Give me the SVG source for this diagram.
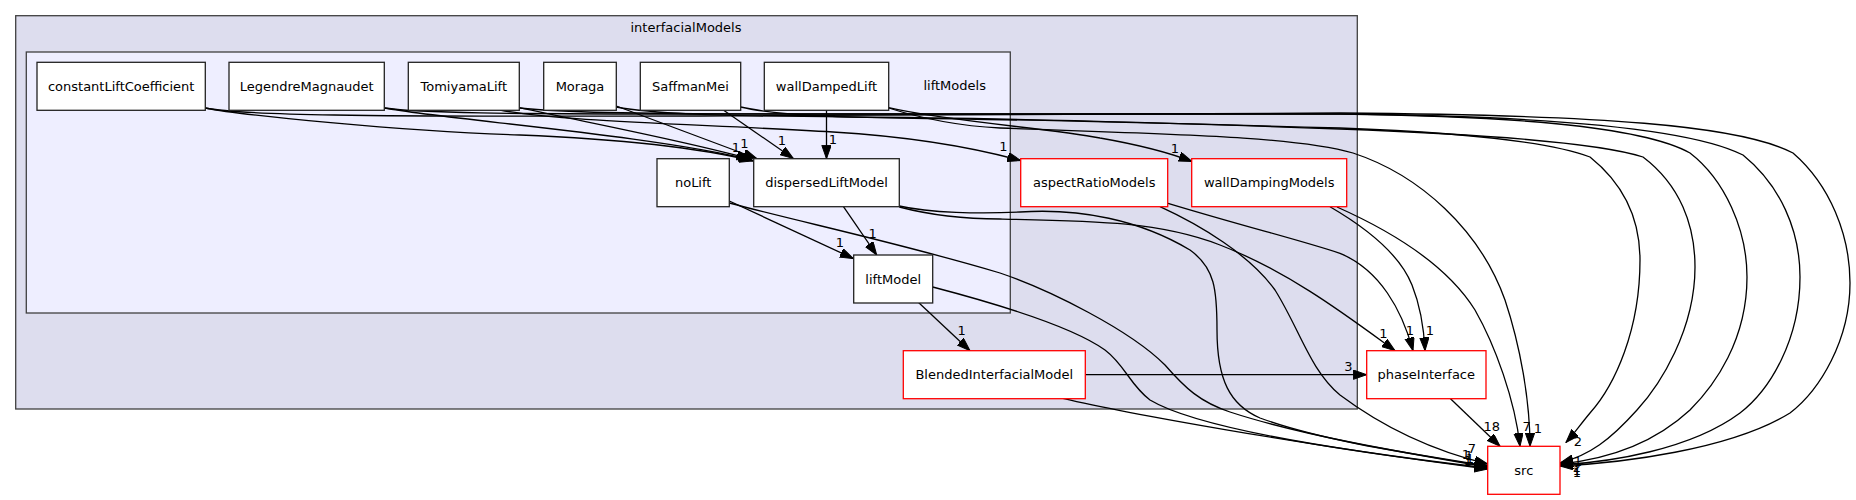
<svg xmlns="http://www.w3.org/2000/svg" width="1856" height="500" viewBox="0 0 1856 500">
<style>
text{font-family:"DejaVu Sans","Liberation Sans",sans-serif;font-size:13px;fill:#000}
.n{text-anchor:middle}
.node rect{fill:#fff;stroke:#222;stroke-width:1.3}
.node.red rect{stroke:#ff0000}
.cl{stroke:#404040;stroke-width:1.3}
.e path{fill:none;stroke:#000;stroke-width:1.3;marker-end:url(#ah)}
.e text{text-anchor:middle}
</style>
<defs>
<marker id="ah" markerWidth="14" markerHeight="10" refX="13.3" refY="4.67" orient="auto" markerUnits="userSpaceOnUse">
<path d="M0,0 L13.3,4.67 L0,9.33 Z" fill="#000" stroke="#000" stroke-width="1"/>
</marker>
</defs>
<rect width="1856" height="500" fill="#fff"/>
<g id="cluster_interfacialModels">
<rect class="cl" x="15.7" y="15.7" width="1341.6" height="393.3" fill="#ddddee"/>
<text class="n" x="686" y="32">interfacialModels</text>
</g>
<g id="cluster_liftModels">
<rect class="cl" x="26.3" y="52" width="984" height="261" fill="#eeeeff"/>
<text class="n" x="954.7" y="90">liftModels</text>
</g>
<g id="edges">
<g class="e"><path d="M826.5,110.3 L826.5,158.7"/><text x="833" y="144">1</text></g>
<g class="e"><path d="M724,110.5 L793.3,158.5"/><text x="782" y="145">1</text></g>
<g class="e"><path d="M616.3,106 L756.7,158.5"/><text x="744.3" y="148">1</text></g>
<g class="e"><path d="M519.3,107.7 C600,125 690,142 750,159"/><text x="736" y="152">1</text></g>
<g class="e"><path d="M384.3,108 C450,120 650,135 752,160"/></g>
<g class="e"><path d="M205.3,108 C240,115 400,131 520,135 C620,139 700,148 753,161"/></g>
<g class="e"><path d="M500,110 C560,122 700,124 833,132 C900,136 960,144 1020.7,160.5"/><text x="1003.3" y="151">1</text></g>
<g class="e"><path d="M888.7,107.7 C950,122 1050,128 1100,138 C1140,145 1170,153 1192,161.5"/><text x="1175" y="153">1</text></g>
<g class="e"><path d="M843.3,206.3 L876.7,255"/><text x="872.7" y="238">1</text></g>
<g class="e"><path d="M729.3,201 L853.3,258.5"/><text x="840" y="247">1</text></g>
<g class="e"><path d="M918.3,302.3 L970,350.7"/><text x="961.7" y="335">1</text></g>
<g class="e"><path d="M1085.3,374.7 L1366.7,374.7"/><text x="1348.3" y="370.5">3</text></g>
<g class="e"><path d="M1450,398.3 L1500,446.3"/><text x="1491.7" y="431">18</text></g>
<g class="e"><path d="M899.3,207 C930,215 960,219 1000,219 C1100,221 1160,222 1220,245 C1290,272 1350,318 1395,350.7"/><text x="1383.3" y="338">1</text></g>
<g class="e"><path d="M1168,203.3 C1250,228 1300,240 1340,253.3 C1380,270 1402,310 1413,350.7"/><text x="1410" y="335">1</text></g>
<g class="e"><path d="M1330,206.7 C1370,230 1400,255 1412,285 C1420,305 1424,330 1425,350.7"/><text x="1430" y="335">1</text></g>
<g class="e"><path d="M899.3,206 C930,213 980,214 1020,212 C1080,208 1140,220 1190,250 C1215,268 1217,290 1217,330 C1217,380 1230,405 1260,418 C1320,440 1400,452 1487.7,466"/><text x="1472" y="453">7</text></g>
<g class="e"><path d="M1160,206.7 C1200,225 1250,255 1275,290 C1300,330 1310,370 1340,395 C1380,425 1430,450 1487.7,464"/><text x="1469" y="460">1</text></g>
<g class="e"><path d="M729.3,203 C800,222 900,243 1000,273 C1050,290 1130,330 1165,365 C1185,388 1200,402 1230,412 C1300,435 1400,452 1487.7,467"/><text x="1466" y="459">1</text></g>
<g class="e"><path d="M932.7,287 C990,302 1070,325 1105,350 C1125,365 1130,385 1150,400 C1200,430 1350,452 1487.7,468"/><text x="1470" y="463">1</text></g>
<g class="e"><path d="M1063,398.3 C1120,412 1300,445 1487.7,469"/><text x="1468" y="465">1</text></g>
<g class="e"><path d="M1337,207 C1400,235 1450,270 1475,310 C1495,345 1515,400 1520,446.3"/><text x="1526.7" y="430.5">7</text></g>
<g class="e"><path d="M888.7,108 C920,118 960,126 1000,128 C1150,134 1290,135 1353,153 C1420,175 1480,230 1505,300 C1520,345 1530,400 1530,446.3"/><text x="1538" y="432.5">1</text></g>
<g class="e"><path d="M740.7,107 C770,114 820,117 900,118 C1050,120 1200,124 1340,128 C1420,131 1540,138 1590,157 C1625,185 1640,220 1640,260 C1640,330 1615,385 1590,413 C1580,425 1573,435 1566,442.5"/><text x="1578" y="446">2</text></g>
<g class="e"><path d="M616.3,107 C650,113 700,116 850,117 C1000,118 1200,124 1340,129 C1450,133 1590,140 1643,157 C1680,185 1695,225 1695,267 C1695,330 1660,385 1637,410 C1610,440 1590,455 1560,463"/><text x="1578" y="465.5">1</text></g>
<g class="e"><path d="M519.3,108 C560,112 620,114 800,114 C1000,114 1200,114 1340,114 C1500,116 1640,125 1690,153 C1725,180 1747,230 1747,277 C1747,340 1715,385 1690,410 C1650,447 1600,460 1560,464"/><text x="1577" y="472">2</text></g>
<g class="e"><path d="M384.3,108 C420,113 500,114 700,114 C1000,114 1200,114 1340,114 C1550,116 1690,128 1743,155 C1780,185 1800,230 1800,277 C1800,340 1770,390 1740,413 C1690,450 1610,462 1560,465"/><text x="1577" y="475">1</text></g>
<g class="e"><path d="M205.3,108 C240,115 350,117 700,116 C1000,115 1200,113 1340,113 C1600,115 1740,125 1793,153 C1830,185 1850,235 1850,283 C1850,340 1820,390 1790,413 C1730,450 1620,463 1560,466"/><text x="1577" y="477">1</text></g>
</g>
<g id="node_constantLiftCoefficient" class="node"><rect x="37" y="62.3" width="168.3" height="48"/><text class="n" x="121.2" y="90.8">constantLiftCoefficient</text></g>
<g id="node_LegendreMagnaudet" class="node"><rect x="229" y="62.3" width="155.3" height="48"/><text class="n" x="306.7" y="90.8">LegendreMagnaudet</text></g>
<g id="node_TomiyamaLift" class="node"><rect x="408.3" y="62.3" width="111" height="48"/><text class="n" x="463.8" y="90.8">TomiyamaLift</text></g>
<g id="node_Moraga" class="node"><rect x="543.7" y="62.3" width="72.6" height="48"/><text class="n" x="580" y="90.8">Moraga</text></g>
<g id="node_SaffmanMei" class="node"><rect x="640.3" y="62.3" width="100.4" height="48"/><text class="n" x="690.5" y="90.8">SaffmanMei</text></g>
<g id="node_wallDampedLift" class="node"><rect x="764.3" y="62.3" width="124.4" height="48"/><text class="n" x="826.5" y="90.8">wallDampedLift</text></g>
<g id="node_noLift" class="node"><rect x="657" y="158.7" width="72.3" height="48"/><text class="n" x="693.2" y="187.2">noLift</text></g>
<g id="node_dispersedLiftModel" class="node"><rect x="753.7" y="158.7" width="145.6" height="48"/><text class="n" x="826.5" y="187.2">dispersedLiftModel</text></g>
<g id="node_liftModel" class="node"><rect x="853.7" y="255" width="79" height="48"/><text class="n" x="893.2" y="283.5">liftModel</text></g>
<g id="node_aspectRatioModels" class="node red"><rect x="1020.7" y="158.7" width="147" height="48"/><text class="n" x="1094.2" y="187.2">aspectRatioModels</text></g>
<g id="node_wallDampingModels" class="node red"><rect x="1191.7" y="158.7" width="155" height="48"/><text class="n" x="1269.2" y="187.2">wallDampingModels</text></g>
<g id="node_BlendedInterfacialModel" class="node red"><rect x="903.3" y="350.7" width="182" height="48"/><text class="n" x="994.3" y="379.2">BlendedInterfacialModel</text></g>
<g id="node_phaseInterface" class="node red"><rect x="1366.7" y="350.7" width="119.3" height="48"/><text class="n" x="1426.3" y="379.2">phaseInterface</text></g>
<g id="node_src" class="node red"><rect x="1487.7" y="446.3" width="72.3" height="48"/><text class="n" x="1523.8" y="474.8">src</text></g>
</svg>
